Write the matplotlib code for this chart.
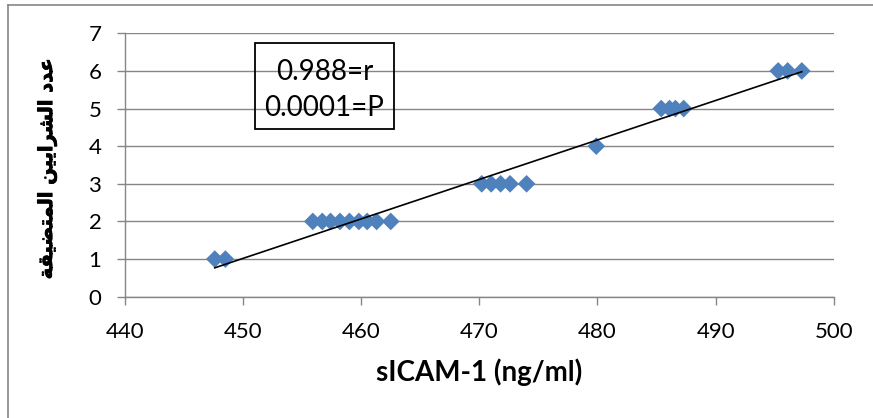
import numpy as np
import matplotlib
matplotlib.use("Agg")
import matplotlib.pyplot as plt
import matplotlib.patheffects as pe
from matplotlib.lines import Line2D

# sICAM-1 concentration (ng/ml) and number of stenosed arteries
sicam = [447.6, 448.5,
         455.9, 456.7, 457.4, 458.2, 459.0, 459.8, 460.5, 461.3, 462.5,
         470.2, 471.0, 471.8, 472.6, 474.0,
         479.9,
         485.4, 486.1, 486.6, 487.3,
         495.3, 496.1, 497.3]
arteries = [1, 1,
            2, 2, 2, 2, 2, 2, 2, 2, 2,
            3, 3, 3, 3, 3,
            4,
            5, 5, 5, 5,
            6, 6, 6]

x_ticks = [440, 450, 460, 470, 480, 490, 500]
y_ticks = [0, 1, 2, 3, 4, 5, 6, 7]
x_title = "sICAM-1 (ng/ml)"
# "عدد الشرايين المتضيقة" written with Arabic presentation forms in visual order
y_title = ("\uFE94\uFED8\uFEF4\uFEC0\uFE98\uFEE4\uFEDF\uFE8D"
           " \uFEE6\uFEF4\uFEF3\uFE8D\uFEAE\uFEB8\uFEDF\uFE8D"
           " \uFEA9\uFEAA\uFECB")
stats_lines = ["0.988=r", "0.0001=P"]

W, H = 873, 418
fig = plt.figure(figsize=(W / 100, H / 100), dpi=100)
ax = fig.add_axes([125 / W, 1 - 296.7 / H, (833.7 - 125) / W, (296.7 - 33.3) / H])

grey = "#868686"
ax.set_xlim(x_ticks[0], x_ticks[-1])
ax.set_ylim(y_ticks[0], y_ticks[-1])
ax.set_xticks(x_ticks)
ax.set_yticks(y_ticks)
ax.grid(axis="y", color=grey, linewidth=1.0, zorder=0)
ax.set_axisbelow(True)
for side in ("top", "right"):
    ax.spines[side].set_visible(False)
for side in ("left", "bottom"):
    ax.spines[side].set_color(grey)
    ax.spines[side].set_linewidth(1.0)
ax.tick_params(axis="both", direction="out", length=6, width=1.0, color=grey,
               labelsize=16)
ax.tick_params(axis="x", pad=12)
ax.tick_params(axis="y", pad=11)
for lab in ax.get_xticklabels() + ax.get_yticklabels():
    lab.set_fontfamily("Lato")

ax.scatter(sicam, arteries, marker="D", s=9.0 ** 2, color="#4F81BD",
           edgecolors="none", zorder=3)

# least-squares trend line over the data range
slope, intercept = np.polyfit(sicam, arteries, 1)
xs = np.array([min(sicam), max(sicam)])
ax.plot(xs, slope * xs + intercept, color="black", linewidth=1.2, zorder=4)

ax.set_xlabel(x_title, fontfamily="Lato", fontweight="bold", fontsize=20,
              labelpad=12)

fig.text(47 / W, 1 - 168 / H, y_title, rotation=90, ha="center", va="center",
         family=["DejaVu Sans"], fontweight="bold", fontsize=14,
         path_effects=[pe.withStroke(linewidth=0.6, foreground="black")])

# statistics box
ax.add_patch(plt.Rectangle((255 / W, 1 - 129.3 / H), (394 - 255) / W,
                           (129.3 - 42.7) / H, transform=fig.transFigure,
                           fill=False, edgecolor="black", linewidth=1.3,
                           zorder=5, clip_on=False))
fig.text(324.5 / W, 1 - 72 / H, stats_lines[0], ha="center", va="center",
         fontfamily="Lato", fontsize=20)
fig.text(324.5 / W, 1 - 108 / H, stats_lines[1], ha="center", va="center",
         fontfamily="Lato", fontsize=20)

# chart-area frame
fig.add_artist(Line2D([8 / W, 8 / W], [1 - 5 / H, 0], transform=fig.transFigure,
                      color=grey, linewidth=1.2))
fig.add_artist(Line2D([8 / W, 1], [1 - 5 / H, 1 - 5 / H], transform=fig.transFigure,
                      color=grey, linewidth=1.2))

fig.savefig("out.png", dpi=100)
